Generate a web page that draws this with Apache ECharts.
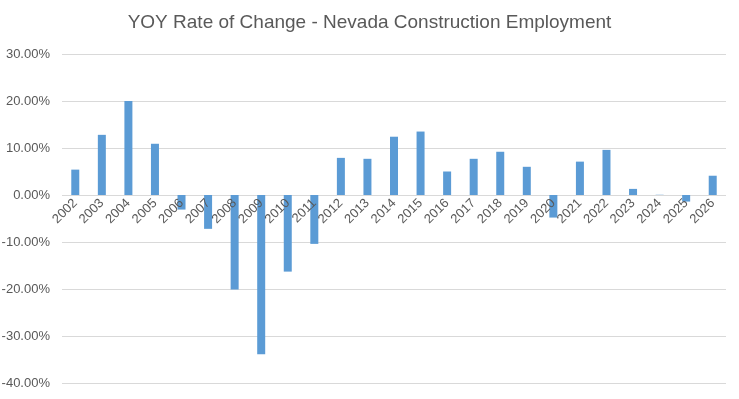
<!DOCTYPE html>
<html><head><meta charset="utf-8">
<script src="https://cdn.jsdelivr.net/npm/echarts@6/dist/echarts.min.js"></script>
<style>html,body{margin:0;padding:0;background:#fff}#c{width:739px;height:399px}</style>
</head><body><div id="c"></div>
<script>
const years = ['2002','2003','2004','2005','2006','2007','2008','2009','2010','2011','2012','2013','2014','2015','2016','2017','2018','2019','2020','2021','2022','2023','2024','2025','2026'];
const yoyChange = [5.4, 12.8, 20.0, 10.9, -3.1, -7.2, -20.1, -33.9, -16.3, -10.4, 7.9, 7.7, 12.4, 13.5, 5.0, 7.7, 9.2, 6.0, -4.8, 7.1, 9.6, 1.3, 0.05, -1.4, 4.1];
const titleText = 'YOY Rate of Change - Nevada Construction Employment';

const gridTop = 54, gridBottom = 16, chartH = 399;
const yMin = -40, yMax = 30;
const plotH = chartH - gridTop - gridBottom;
const zeroOffset = -plotH * (0 - yMin) / (yMax - yMin);

const chart = echarts.init(document.getElementById('c'));
chart.setOption({
  animation: false,
  textStyle: {fontFamily: 'Liberation Sans'},
  title: {text: titleText, left: 'center', top: 8,
    textStyle: {fontFamily: 'Liberation Sans', fontSize: 19, fontWeight: 'normal', color: '#595959'}},
  grid: {left: 62, right: 13, top: gridTop, bottom: gridBottom, containLabel: false, outerBoundsMode: 'none'},
  xAxis: {type: 'category', data: years, offset: zeroOffset, z: 10,
    axisLine: {show: false, onZero: false},
    axisTick: {show: false},
    axisLabel: {rotate: 45, interval: 0, margin: 6, fontSize: 13, color: '#595959', fontFamily: 'Liberation Sans'}},
  yAxis: {type: 'value', min: yMin, max: yMax, interval: 10,
    axisLine: {show: false}, axisTick: {show: false},
    splitLine: {lineStyle: {color: '#d9d9d9'}},
    axisLabel: {formatter: v => v.toFixed(2) + '%', fontSize: 13, color: '#595959', margin: 12, fontFamily: 'Liberation Sans'}},
  series: [{type: 'bar', data: yoyChange, barWidth: 8, z: 2, itemStyle: {color: '#5b9bd5'}}]
});
</script></body></html>
